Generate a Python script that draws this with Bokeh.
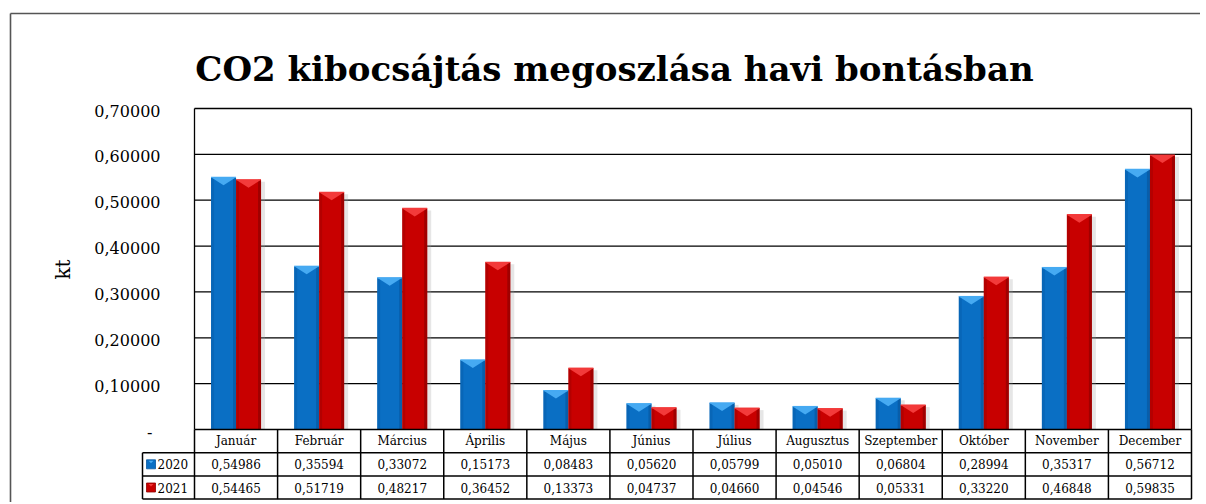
import math
from bokeh.plotting import figure
from bokeh.models import Range1d
from bokeh.core.properties import value
from bokeh.embed import file_html
from bokeh.resources import INLINE

# ---------------- data ----------------
months = ["Január", "Február", "Március", "Április", "Május", "Június",
          "Július", "Augusztus", "Szeptember", "Október", "November", "December"]
v2020 = [0.54986, 0.35594, 0.33072, 0.15173, 0.08483, 0.05620,
         0.05799, 0.05010, 0.06804, 0.28994, 0.35317, 0.56712]
v2021 = [0.54465, 0.51719, 0.48217, 0.36452, 0.13373, 0.04737,
         0.04660, 0.04546, 0.05331, 0.33220, 0.46848, 0.59835]
series_names = ["2020", "2021"]
tick_values = [0.0, 0.1, 0.2, 0.3, 0.4, 0.5, 0.6, 0.7]
tick_labels = ["-", "0,10000", "0,20000", "0,30000", "0,40000", "0,50000", "0,60000", "0,70000"]
title_text = "CO2 kibocsájtás megoszlása havi bontásban"
y_title = "kt"

# ---------------- layout constants (page pixels) ----------------
W, H = 1200, 502
PAGE_L, PAGE_T = 0, 0
PLOT_L, PLOT_R = 194, 1191
ZERO_Y = 429
TOP_Y = 108
COLW = (PLOT_R - PLOT_L) / len(months)
YS = (ZERO_Y - TOP_Y) / 0.7
ROW_PX = 23.2
LEG_L = 142

def px_x(px):
    return (px - PLOT_L) / COLW

def px_y(py):
    return (ZERO_Y - py) / YS

font = value("DejaVu Serif")

p = figure(width=W, height=H, output_backend="svg", toolbar_location=None,
           x_axis_location=None, y_axis_location=None, min_border=0,
           x_range=Range1d(px_x(PAGE_L), px_x(PAGE_L + W)),
           y_range=Range1d(px_y(PAGE_T + H), px_y(PAGE_T)))
p.outline_line_color = None
p.background_fill_color = "white"
p.border_fill_color = "white"
p.xgrid.visible = False
p.ygrid.visible = False

n = len(months)
ymax = tick_values[-1]

# outer chart border (left and top visible, extends beyond page)
p.segment(x0=[px_x(10), px_x(10)], y0=[px_y(13), px_y(13)],
          x1=[px_x(10), px_x(PAGE_L + W + 5)], y1=[px_y(PAGE_T + H + 5), px_y(13)],
          line_color="#555555", line_width=1.6)

# gridlines
p.segment(x0=[0] * (len(tick_values) - 1), x1=[n] * (len(tick_values) - 1),
          y0=tick_values[1:], y1=tick_values[1:], line_color="black", line_width=1.3)
# plot area sides
p.segment(x0=[0, n], x1=[0, n], y0=[0, 0], y1=[ymax, ymax], line_color="black", line_width=1.3)

# bars
bw = 25 / COLW
centers = [i + 0.5 for i in range(n)]
x20 = [c - bw / 2 for c in centers]
x21 = [c + bw / 2 for c in centers]
cap = 8 / YS
edge = 3 / COLW

styles = [
    (x20, v2020, "#0a6fc4", "#0757a0", "#46aaf2"),
    (x21, v2021, "#c80000", "#8f0000", "#f33a3a"),
]
# shadows
for xs, vals, main, dark, light in styles:
    p.vbar(x=[x + 2.5 / COLW for x in xs], top=[v - 2 / YS for v in vals], bottom=0,
           width=bw + 3 / COLW, fill_color="#9a9a9a", fill_alpha=0.25, line_color=None)
for xs, vals, main, dark, light in styles:
    p.vbar(x=xs, top=vals, bottom=0, width=bw, fill_color=main, line_color=None)
    p.vbar(x=[x + bw / 2 - edge / 2 for x in xs], top=vals, bottom=0, width=edge,
           fill_color=dark, line_color=None, fill_alpha=0.7)
    p.vbar(x=[x - bw / 2 + edge / 2 for x in xs], top=vals, bottom=0, width=edge,
           fill_color=dark, line_color=None, fill_alpha=0.35)
    p.patches(xs=[[x - bw / 2, x + bw / 2, x] for x in xs],
              ys=[[v, v, v - cap] for v in vals],
              fill_color=light, line_color=None)
    p.segment(x0=[x - bw / 2 for x in xs], x1=[x + bw / 2 for x in xs], y0=vals, y1=vals,
              line_color=light, line_width=1.2)

# data table
r = ROW_PX / YS
bottom = -3 * r
leg_x = px_x(LEG_L)
# horizontal table lines
p.segment(x0=[0, leg_x, leg_x, leg_x], x1=[n] * 4,
          y0=[0, -r, -2 * r, -3 * r], y1=[0, -r, -2 * r, -3 * r],
          line_color="black", line_width=1.5)
# vertical table lines
p.segment(x0=list(range(n + 1)), x1=list(range(n + 1)),
          y0=[0] * (n + 1), y1=[bottom] * (n + 1), line_color="black", line_width=1.5)
p.segment(x0=[leg_x], x1=[leg_x], y0=[-r], y1=[bottom], line_color="black", line_width=1.5)

# month header
p.text(x=centers, y=[-r / 2] * n, text=months, text_font=font, text_font_size=value("12px"),
       text_align="center", text_baseline="middle", text_color="black")

def fmt(v):
    return f"{v:.5f}".replace(".", ",")

for k, vals in enumerate([v2020, v2021]):
    yc = -(k + 1.5) * r
    p.text(x=centers, y=[yc] * n, text=[fmt(v) for v in vals], text_font=font,
           text_font_size=value("12px"), text_align="center", text_baseline="middle",
           text_color="black")

# legend keys in table
sw = 9
for k, (xs, vals, main, dark, light) in enumerate(styles):
    yc = -(k + 1.5) * r
    p.rect(x=[px_x(146 + sw / 2)], y=[yc], width=sw / COLW, height=sw / YS,
           fill_color=main, line_color=dark, line_width=0.8)
    p.patches(xs=[[px_x(146 + 2), px_x(146 + sw - 2), px_x(146 + sw / 2)]],
              ys=[[yc + (sw / 2 - 1) / YS, yc + (sw / 2 - 1) / YS, yc + 1 / YS]],
              fill_color=light, line_color=None)
    p.text(x=[px_x(157)], y=[yc], text=[series_names[k]], text_font=font,
           text_font_size=value("12px"), text_align="left", text_baseline="middle",
           text_color="black")

# y tick labels
lab_x = [px_x(152) if t == "-" else px_x(160) for t in tick_labels]
p.text(x=lab_x, y=[t - 2 / YS for t in tick_values], text=tick_labels, text_font=font,
       text_font_size=value("16px"), text_align="right", text_baseline="middle",
       text_color="black")

# y axis title
p.text(x=[px_x(62)], y=[px_y(269)], text=[y_title], text_font=font,
       text_font_size=value("20px"), text_align="center", text_baseline="middle",
       angle=math.pi / 2, text_color="black")

# chart title
p.text(x=[px_x(614)], y=[px_y(68)], text=[title_text], text_font=font,
       text_font_size=value("34px"), text_font_style="bold", text_align="center",
       text_baseline="alphabetic", text_color="black")

open("out.html", "w").write(file_html(p, INLINE))
